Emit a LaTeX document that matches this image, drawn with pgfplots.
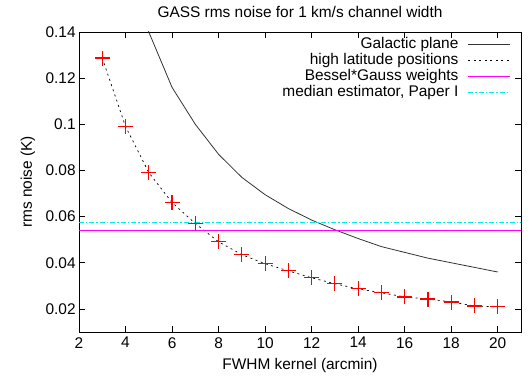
\documentclass[border=0pt]{standalone}
\usepackage{fontspec}
\setmainfont{Liberation Sans}
\usepackage{pgfplots}
\pgfplotsset{compat=1.18}
\definecolor{gpmagenta}{rgb}{1,0,1}
\definecolor{gpcyan}{rgb}{0,0.93,0.93}

\begin{document}
\fontsize{15.5}{18}\selectfont
\begin{tikzpicture}
\begin{axis}[
    scale only axis,
    width=442bp, height=300bp,
    xmin=2, xmax=21,
    ymin=0.01, ymax=0.14,
    xtick={2,4,...,20},
    ytick={0.02,0.04,0.06,0.08,0.1,0.12,0.14},
    scaled y ticks=false,
    /pgf/number format/fixed,
    /pgf/number format/assume math mode=true,
    tick align=inside,
    major tick length=6bp,
    tick style={black, line width=0.6bp},
    axis line style={line width=0.8bp},
    title={GASS rms noise for 1 km/s channel width},
    xlabel={FWHM kernel (arcmin)},
    ylabel={rms noise (K)},
    title style={yshift=3bp},
    yticklabel style={xshift=2bp},
    legend style={draw=none, fill=none, inner sep=0pt,
        at={(0.9774,0.983)}, anchor=north east,
        row sep=1bp, column sep=9bp,
        nodes={inner sep=0.5bp, text height=11bp, text depth=3bp},
        font=\fontsize{15.5}{18}\selectfont},
    legend cell align=right,
    legend plot pos=right,
    legend image code/.code={\draw[#1] (0bp,0bp) -- (42bp,0bp);},
]
\addplot[black!80, line width=0.8bp] coordinates {
    (4,0.176) (5,0.140) (6,0.116) (7,0.100) (8,0.087) (9,0.077) (10,0.0695)
    (11,0.0635) (12,0.0585) (13,0.0543) (14,0.0505) (15,0.047) (16,0.0445)
    (17,0.042) (18,0.040) (19,0.038) (20,0.036)
};
\addlegendentry{Galactic plane}
\addplot[black, line width=0.7bp, dash pattern=on 2bp off 3.5bp] coordinates {
    (3,0.1287) (4,0.0991) (5,0.0791) (6,0.0661) (7,0.057) (8,0.0491)
    (9,0.0435) (10,0.0396) (11,0.0365) (12,0.0335) (13,0.0309) (14,0.0287)
    (15,0.027) (16,0.0252) (17,0.0243) (18,0.023) (19,0.0213) (20,0.0209)
};
\addlegendentry{high latitude positions}
\addplot[gpmagenta, line width=0.8bp] coordinates {
    (2,0.0540) (21,0.0540)
};
\addlegendentry{Bessel*Gauss weights}
\addplot[gpcyan, line width=0.9bp, dash pattern=on 5bp off 2bp on 1.5bp off 2bp] coordinates {
    (2,0.0574) (21,0.0574)
};
\addlegendentry{median estimator, Paper I}
\addplot[only marks, red, mark=+, mark size=7.5bp, line width=1.2bp, forget plot] coordinates {
    (3,0.1287) (4,0.0991) (5,0.0791) (6,0.0661) (7,0.057) (8,0.0491)
    (9,0.0435) (10,0.0396) (11,0.0365) (12,0.0335) (13,0.0309) (14,0.0287)
    (15,0.027) (16,0.0252) (17,0.0243) (18,0.023) (19,0.0213) (20,0.0209)
};
\end{axis}
\pgfresetboundingbox
\useasboundingbox (-79bp,-49bp) rectangle (453bp,332bp);
\end{tikzpicture}
\end{document}
